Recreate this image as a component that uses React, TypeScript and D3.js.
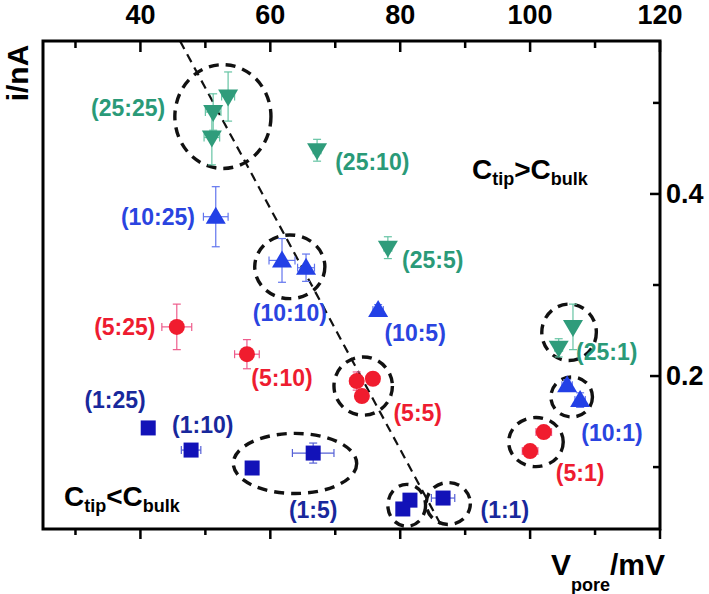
import React from 'react';
import * as d3 from 'd3';

// frame of the plot
const WIDTH = 709;
const HEIGHT = 594;
const FRAME = { left: 43, right: 660, top: 41, bottom: 529 };

// axis ticks
const xMinorTicks = [30, 50, 70, 90, 110];
const xMajorTicks = [40, 60, 80, 100, 120];
const yMinorTicks = [0.1, 0.3, 0.5];
const yMajorTicks = [0.2, 0.4];

// Ctip:Cbulk = 25:x (green, down triangles)
const greenV = [53.5, 51.2, 51.0, 67.2, 78.1, 106.6, 104.4];
const greenI = [0.507, 0.49, 0.462, 0.448, 0.341, 0.254, 0.231];
const greenVErr = [1.0, 1.2, 1.2, 0.6, 0.6, 0.3, 0.6];
const greenIErr = [0.027, 0.02, 0.03, 0.012, 0.012, 0.025, 0.01];

// 10:x (blue, up triangles)
const blueV = [51.6, 61.8, 65.5, 76.6, 105.7, 107.7];
const blueI = [0.375, 0.327, 0.319, 0.2725, 0.19, 0.1736];
const blueVErr = [1.9, 2.0, 1.3, 0.8, 0.8, 0.8];
const blueIErr = [0.033, 0.024, 0.015, 0.006, 0.006, 0.008];

// 5:x (red circles)
const redV = [45.6, 56.4, 73.3, 75.8, 74.1, 102.1, 100.0];
const redI = [0.254, 0.224, 0.1945, 0.197, 0.178, 0.1385, 0.1176];
const redVErr = [2.3, 1.9, 1.0, 0.5, 0.5, 1.2, 1.2];
const redIErr = [0.025, 0.016, 0.01, 0.004, 0.004, 0.004, 0.004];

// 1:x (navy squares)
const navyV = [41.2, 47.8, 57.2, 66.6, 81.5, 80.4, 86.6];
const navyI = [0.143, 0.1187, 0.099, 0.1154, 0.0637, 0.054, 0.066];
const navyVErr = [0.6, 1.5, 0.5, 3.2, 0.5, 0.5, 1.8];
const navyIErr = [0.004, 0.004, 0.003, 0.011, 0.003, 0.003, 0.003];

// dashed trend line
const trendV = [46.1, 86.6];
const trendI = [0.568, 0.032];

// dashed groups: centre and half-widths in data units
const groupV = [52.7, 63.0, 74.3, 63.8, 81.0, 87.4, 106.0, 106.4, 100.9];
const groupI = [0.485, 0.32, 0.189, 0.104, 0.058, 0.06, 0.248, 0.177, 0.1275];
const groupRV = [7.4, 5.4, 4.5, 9.5, 2.9, 3.4, 4.2, 3.2, 4.2];
const groupRI = [0.057, 0.035, 0.032, 0.033, 0.023, 0.023, 0.031, 0.022, 0.027];

// ratio labels
const labelText = ['(25:25)', '(25:10)', '(25:5)', '(25:1)', '(10:25)', '(10:10)', '(10:5)', '(10:1)',
  '(5:25)', '(5:10)', '(5:5)', '(5:1)', '(1:25)', '(1:10)', '(1:5)', '(1:1)'];
const labelV = [38.1, 75.7, 85.0, 111.8, 42.7, 63.0, 82.3, 112.6, 37.6, 61.8, 82.7, 107.7, 36.1, 49.6, 66.6, 96.1];
const labelI = [0.4945, 0.435, 0.3275, 0.226, 0.375, 0.269, 0.247, 0.137, 0.254, 0.198, 0.159, 0.0934, 0.174, 0.146, 0.0527, 0.0527];
const labelSeries = ['green', 'green', 'green', 'green', 'blue', 'blue', 'blue', 'blue',
  'red', 'red', 'red', 'red', 'navy', 'navy', 'navy', 'navy'];

const COLORS: Record<string, { fill: string; err: string; text: string }> = {
  green: { fill: '#2f9c7b', err: '#66c4a4', text: '#2a9a78' },
  blue: { fill: '#2340e6', err: '#6275ee', text: '#2a44e0' },
  red: { fill: '#f01c2e', err: '#ee5c8c', text: '#ee1c30' },
  navy: { fill: '#1212b8', err: '#5560d6', text: '#18289c' },
};

const FONT = "'Liberation Sans', Arial, Helvetica, sans-serif";

const x = d3.scaleLinear().domain([25, 120]).range([FRAME.left, FRAME.right]);
const y = d3.scaleLinear().domain([0.032, 0.568]).range([FRAME.bottom, FRAME.top]);

function ErrorBars({ v, i, ve, ie, color }: { v: number[]; i: number[]; ve: number[]; ie: number[]; color: string }) {
  return (
    <g stroke={color} strokeWidth={1.2} fill="none">
      {v.map((d, k) => {
        const cx = x(d), cy = y(i[k]);
        const x0 = x(d - ve[k]), x1 = x(d + ve[k]);
        const y0 = y(i[k] + ie[k]), y1 = y(i[k] - ie[k]);
        return (
          <g key={k}>
            <line x1={x0} x2={x1} y1={cy} y2={cy} />
            <line x1={x0} x2={x0} y1={cy - 4} y2={cy + 4} />
            <line x1={x1} x2={x1} y1={cy - 4} y2={cy + 4} />
            <line x1={cx} x2={cx} y1={y0} y2={y1} />
            <line x1={cx - 4} x2={cx + 4} y1={y0} y2={y0} />
            <line x1={cx - 4} x2={cx + 4} y1={y1} y2={y1} />
          </g>
        );
      })}
    </g>
  );
}

const triUp = 'M0,-10L10,7L-10,7Z';
const triDown = 'M-10,-7L10,-7L0,10Z';

export default function App() {
  const trendLine = d3.line<number>()
    .x((d) => x(d))
    .y((_, k) => y(trendI[k]))(trendV) as string;

  return (
    <svg width={WIDTH} height={HEIGHT} style={{ position: 'absolute', left: 0, top: 0, background: '#fff' }}
      fontFamily={FONT}>
      <defs>
        <clipPath id="frame-clip">
          <rect x={FRAME.left} y={FRAME.top} width={FRAME.right - FRAME.left} height={FRAME.bottom - FRAME.top} />
        </clipPath>
      </defs>

      {/* trend line */}
      <path d={trendLine} clipPath="url(#frame-clip)" stroke="#111" strokeWidth={2.2} strokeDasharray="9,6" fill="none" />

      {/* group outlines */}
      <g stroke="#111" strokeWidth={3.4} strokeDasharray="10,7" fill="none">
        {groupV.map((d, k) => (
          <ellipse key={k} cx={x(d)} cy={y(groupI[k])}
            rx={x(d + groupRV[k]) - x(d)} ry={y(groupI[k] - groupRI[k]) - y(groupI[k])} />
        ))}
      </g>

      {/* error bars */}
      <ErrorBars v={greenV} i={greenI} ve={greenVErr} ie={greenIErr} color={COLORS.green.err} />
      <ErrorBars v={blueV} i={blueI} ve={blueVErr} ie={blueIErr} color={COLORS.blue.err} />
      <ErrorBars v={redV} i={redI} ve={redVErr} ie={redIErr} color={COLORS.red.err} />
      <ErrorBars v={navyV} i={navyI} ve={navyVErr} ie={navyIErr} color={COLORS.navy.err} />

      {/* markers */}
      {greenV.map((d, k) => (
        <path key={'g' + k} d={triDown} transform={`translate(${x(d)},${y(greenI[k])})`} fill={COLORS.green.fill} />
      ))}
      {blueV.map((d, k) => (
        <path key={'b' + k} d={triUp} transform={`translate(${x(d)},${y(blueI[k])})`} fill={COLORS.blue.fill} />
      ))}
      {redV.map((d, k) => (
        <circle key={'r' + k} cx={x(d)} cy={y(redI[k])} r={8} fill={COLORS.red.fill} />
      ))}
      {navyV.map((d, k) => (
        <rect key={'n' + k} x={x(d) - 7.5} y={y(navyI[k]) - 7.5} width={15} height={15} fill={COLORS.navy.fill} />
      ))}

      {/* ratio labels */}
      <g fontSize={23} fontWeight="bold" textAnchor="middle" dominantBaseline="central">
        {labelText.map((t, k) => (
          <text key={k} x={x(labelV[k])} y={y(labelI[k])} fill={COLORS[labelSeries[k]].text}>{t}</text>
        ))}
      </g>

      {/* region notes */}
      <text x={472} y={179} fontSize={28} fontWeight="bold" fill="#000">
        C<tspan fontSize={18} dy={6}>tip</tspan><tspan dy={-6}>&gt;C</tspan><tspan fontSize={18} dy={6}>bulk</tspan>
      </text>
      <text x={64} y={506} fontSize={28} fontWeight="bold" fill="#000">
        C<tspan fontSize={18} dy={6}>tip</tspan><tspan dy={-6}>&lt;C</tspan><tspan fontSize={18} dy={6}>bulk</tspan>
      </text>

      {/* frame */}
      <rect x={FRAME.left} y={FRAME.top} width={FRAME.right - FRAME.left} height={FRAME.bottom - FRAME.top}
        fill="none" stroke="#000" strokeWidth={3} />

      {/* top ticks (inside) and bottom ticks (outside) */}
      <g stroke="#000" strokeWidth={2.5}>
        {xMinorTicks.map((t) => (
          <g key={'xm' + t}>
            <line x1={x(t)} x2={x(t)} y1={FRAME.top} y2={FRAME.top + 7} />
            <line x1={x(t)} x2={x(t)} y1={FRAME.bottom} y2={FRAME.bottom + 6} />
          </g>
        ))}
        {xMajorTicks.map((t) => (
          <g key={'xM' + t}>
            <line x1={x(t)} x2={x(t)} y1={FRAME.top} y2={FRAME.top + 11} />
            <line x1={x(t)} x2={x(t)} y1={FRAME.bottom} y2={FRAME.bottom + 10} />
          </g>
        ))}
        {yMinorTicks.map((t) => (
          <line key={'ym' + t} x1={FRAME.right} x2={FRAME.right - 7} y1={y(t)} y2={y(t)} />
        ))}
        {yMajorTicks.map((t) => (
          <line key={'yM' + t} x1={FRAME.right} x2={FRAME.right - 10} y1={y(t)} y2={y(t)} />
        ))}
      </g>

      {/* tick labels */}
      <g fontSize={27} fontWeight="bold" fill="#000">
        {xMajorTicks.map((t) => (
          <text key={'xl' + t} x={x(t)} y={24} textAnchor="middle">{t}</text>
        ))}
        {yMajorTicks.map((t) => (
          <text key={'yl' + t} x={FRAME.right + 6} y={y(t)} dominantBaseline="central">{d3.format('.1f')(t)}</text>
        ))}
      </g>

      {/* axis titles */}
      <text transform="translate(28,73) rotate(-90)" textAnchor="middle" fontSize={30} fontWeight="bold">i/nA</text>
      <text x={551} y={575} fontSize={30} fontWeight="bold">
        V<tspan fontSize={18} dy={16}>pore</tspan><tspan dy={-16}>/mV</tspan>
      </text>
    </svg>
  );
}
